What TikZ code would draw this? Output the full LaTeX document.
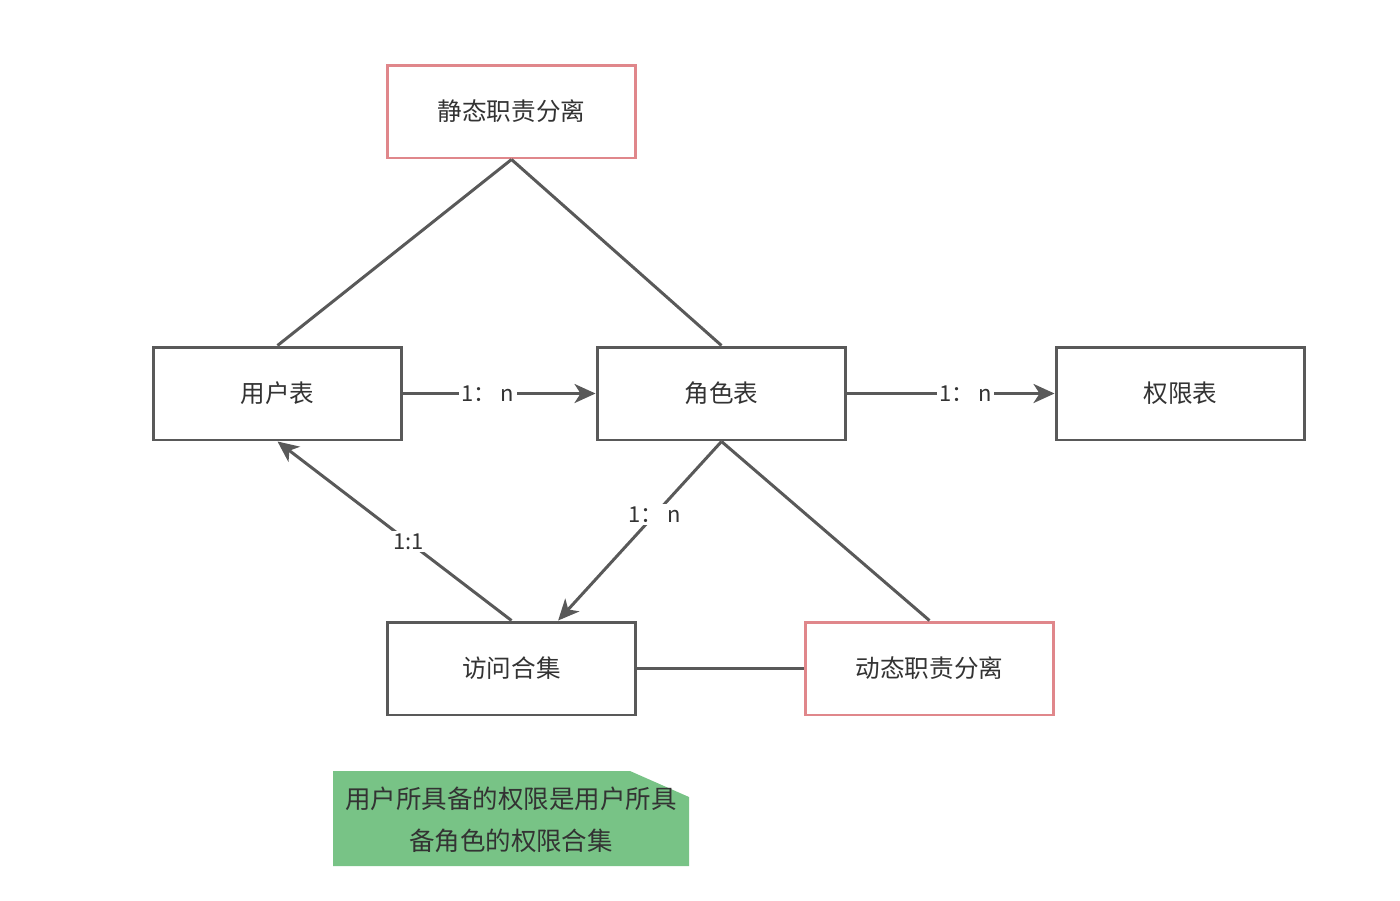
\documentclass[tikz,border=0pt]{standalone}
\usepackage{fontspec}
\setmainfont{Noto Sans CJK SC}
\usetikzlibrary{arrows.meta, calc}
\definecolor{cline}{HTML}{595959}
\definecolor{cred}{HTML}{E0878B}
\definecolor{cgreen}{HTML}{78C386}
\definecolor{ctext}{HTML}{333333}
\tikzset{
  every picture/.style={font=\fontsize{14pt}{17pt}\selectfont, text=ctext},
  box/.style={draw=#1, line width=1.7pt, fill=white, minimum width=4.98cm, minimum height=1.86cm, inner sep=0pt},
  box/.default=cline,
  link/.style={draw=cline, line width=1.7pt},
  arrow/.style={link, -{Stealth[length=4.2mm, width=3.8mm, inset=1.2mm]}},
  lbl/.style={fill=white, inner sep=1.5pt, font=\fontsize{12.5pt}{14pt}\selectfont, text=ctext},
}
\begin{document}
\begin{tikzpicture}[x=0.02cm, y=-0.02cm]
  \useasboundingbox (0,0) rectangle (1400,900);
  % boxes
  \node[box=cred] (sod) at (511.5,111.5) {静态职责分离};
  \node[box] (user) at (277.5,393.5) {用户表};
  \node[box] (role) at (721.5,393.5) {角色表};
  \node[box] (perm) at (1180.5,393.5) {权限表};
  \node[box] (acc) at (511.5,668.5) {访问合集};
  \node[box=cred] (dsd) at (929.5,668.5) {动态职责分离};
  \coordinate (acctip) at ($(acc.north west)!0.685!(acc.north east)$);
  % connectors
  \draw[link] (sod.south) -- (user.north);
  \draw[link] (sod.south) -- (role.north);
  \draw[arrow] (user.east) -- node[lbl, pos=0.44] {1： n} (role.west);
  \draw[arrow] (role.east) -- node[lbl, pos=0.57] {1： n} (perm.west);
  \draw[arrow] (role.south) -- node[lbl, pos=0.41] {1： n} (acctip);
  \draw[arrow] (acc.north) -- node[lbl, pos=0.44] {1:1} (user.south);
  \draw[link] (role.south) -- (dsd.north);
  \draw[link] (acc.east) -- (dsd.west);
  % note
  \fill[cgreen] (333,771) -- (630,771) -- (689,797) -- (689,866) -- (333,866) -- cycle;
  \node[align=center, font=\fontsize{14.5pt}{24pt}\selectfont, text=ctext] (note) at (511,820) {用户所具备的权限是用户所具\\备角色的权限合集};
\end{tikzpicture}
\end{document}
